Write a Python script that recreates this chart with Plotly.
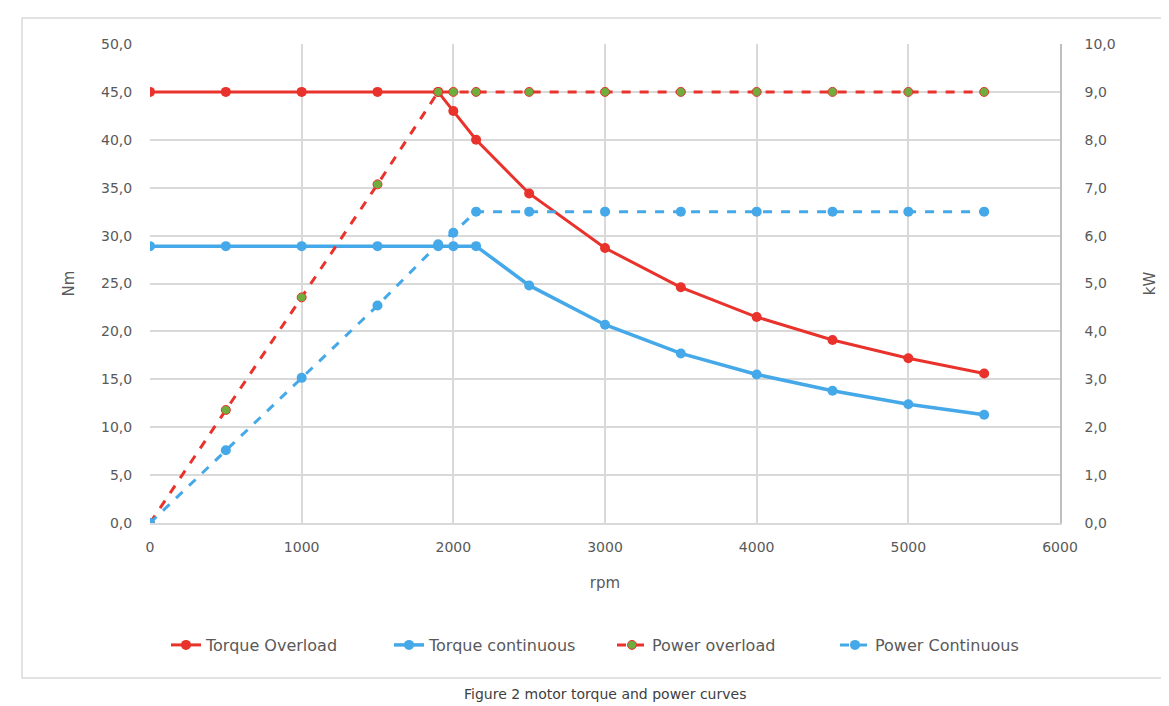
import plotly.graph_objects as go

rpm = [0, 500, 1000, 1500, 1900, 2000, 2150, 2500, 3000, 3500, 4000, 4500, 5000, 5500]
torque_overload = [45.0, 45.0, 45.0, 45.0, 45.0, 43.0, 40.0, 34.4, 28.7, 24.6, 21.5, 19.1, 17.2, 15.6]
torque_continuous = [28.9, 28.9, 28.9, 28.9, 28.9, 28.9, 28.9, 24.8, 20.7, 17.7, 15.5, 13.8, 12.4, 11.3]
power_overload = [0.0, 2.36, 4.71, 7.07, 9.0, 9.0, 9.0, 9.0, 9.0, 9.0, 9.0, 9.0, 9.0, 9.0]
power_continuous = [0.0, 1.52, 3.03, 4.54, 5.82, 6.06, 6.5, 6.5, 6.5, 6.5, 6.5, 6.5, 6.5, 6.5]

x_ticks = [0, 1000, 2000, 3000, 4000, 5000, 6000]
left_ticks = [0, 5, 10, 15, 20, 25, 30, 35, 40, 45, 50]
right_ticks = [0, 1, 2, 3, 4, 5, 6, 7, 8, 9, 10]

RED = "#E8322B"
BLUE = "#45A8E8"
GREEN = "#6FAE3E"
GRAY = "#595959"
FONT = "DejaVu Sans, Liberation Sans, sans-serif"

fig = go.Figure()
fig.add_trace(go.Scatter(x=rpm, y=torque_overload, name="Torque Overload", mode="lines+markers",
                         line=dict(color=RED, width=3), marker=dict(color=RED, size=10)))
fig.add_trace(go.Scatter(x=rpm, y=torque_continuous, name="Torque continuous", mode="lines+markers",
                         line=dict(color=BLUE, width=3.5), marker=dict(color=BLUE, size=10)))
fig.add_trace(go.Scatter(x=rpm, y=power_overload, name="Power overload", mode="lines+markers", yaxis="y2",
                         line=dict(color=RED, width=3, dash="dash"),
                         marker=dict(color=GREEN, size=9, line=dict(color=RED, width=1))))
fig.add_trace(go.Scatter(x=rpm, y=power_continuous, name="Power Continuous", mode="lines+markers", yaxis="y2",
                         line=dict(color=BLUE, width=3, dash="dash"), marker=dict(color=BLUE, size=10)))

# page is offset by the default 8px body margin
OFF = 8
W, H = 1169 - OFF, 706 - OFF
L, T = 150 - OFF, 44 - OFF
R = W - (1060 - OFF)
B = H - (523 - OFF)
pw, ph = W - L - R, H - T - B

def px(x):
    return (x - OFF - L) / pw

def py(y):
    return (H - B - (y - OFF)) / ph

fig.update_layout(
    width=W, height=H,
    margin=dict(l=L, r=R, t=T, b=B),
    paper_bgcolor="white", plot_bgcolor="white",
    separators=",.",
    font=dict(family=FONT, size=14, color=GRAY),
    xaxis=dict(range=[0, 6000], tickvals=x_ticks, tickformat="d",
               showgrid=True, gridcolor="#D9D9D9", gridwidth=1.5,
               showline=True, linecolor="#D9D9D9", linewidth=1.5,
               ticks="outside", ticklen=10, tickcolor="rgba(0,0,0,0)",
               tickfont=dict(size=14),
               zeroline=False, title=dict(text="rpm", standoff=24, font=dict(size=15, color=GRAY))),
    yaxis=dict(range=[0, 50], tickvals=left_ticks, tickformat=".1f",
               showgrid=True, gridcolor="#D9D9D9", gridwidth=1.5, zeroline=False,
               ticks="outside", ticklen=14, tickcolor="rgba(0,0,0,0)",
               tickfont=dict(size=14),
               title=dict(text="Nm", standoff=22, font=dict(size=15, color=GRAY))),
    yaxis2=dict(range=[0, 10], tickvals=right_ticks, tickformat=".1f", overlaying="y", side="right",
                showgrid=False, zeroline=False, showline=True, linecolor="#BFBFBF", linewidth=1.5,
                ticks="outside", ticklen=20, tickcolor="rgba(0,0,0,0)",
                tickfont=dict(size=14),
                title=dict(text="kW", standoff=30, font=dict(size=15, color=GRAY))),
    legend=dict(orientation="h", x=px(612), xanchor="center", y=py(645), yanchor="middle",
                font=dict(size=16, color=GRAY), entrywidth=178, entrywidthmode="pixels"),
    showlegend=True,
)

fig.add_shape(type="rect", xref="paper", yref="paper",
              x0=px(22), x1=px(1166), y0=py(678), y1=py(18),
              line=dict(color="#D9D9D9", width=1.5), fillcolor="rgba(0,0,0,0)", layer="below")

fig.add_annotation(text="Figure 2 motor torque and power curves", xref="paper", yref="paper",
                   x=px(605), y=py(694), showarrow=False, xanchor="center", yanchor="middle",
                   font=dict(size=14, color="#404040"))

fig.write_html("out.html")
